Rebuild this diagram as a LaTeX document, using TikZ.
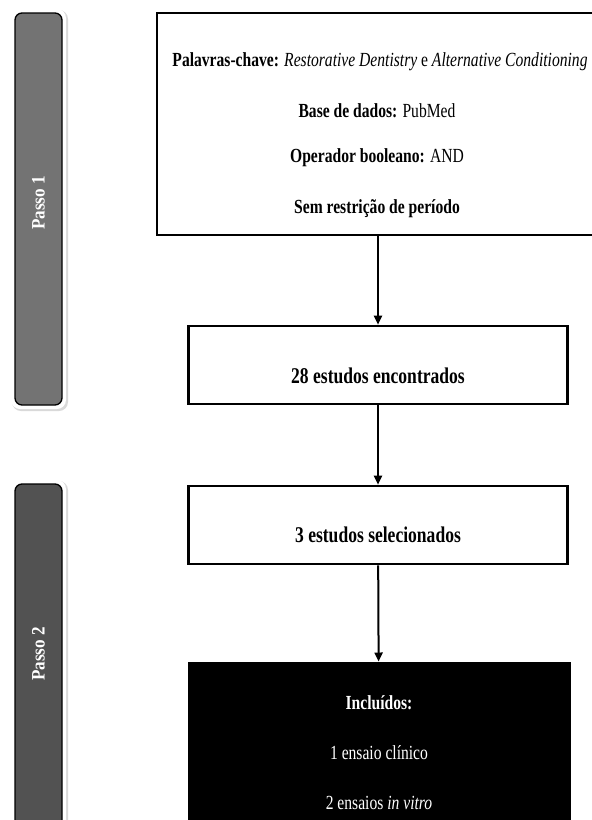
\documentclass[tikz,border=0pt]{standalone}
\usepackage{fontspec}
\setmainfont{Liberation Serif}[FakeStretch=0.78]
\newfontfamily\barfont{Liberation Serif}[FakeStretch=0.9]
\usetikzlibrary{arrows.meta}
\begin{document}
\begin{tikzpicture}[x=1pt,y=-1pt,
  flowbox/.style={draw=black,line width=2.6pt,fill=white,minimum height=78pt,minimum width=379pt,inner sep=0pt},
  darkbox/.style={draw=black,line width=1pt,fill=black,minimum width=382pt,minimum height=170pt,inner sep=0pt},
  txt/.style={inner sep=0pt,font=\fontsize{20}{24}\selectfont},
  btxt/.style={txt,font=\fontsize{20}{24}\selectfont\bfseries},
  bigtxt/.style={txt,font=\fontsize{22.5}{26}\selectfont\bfseries},
  flowarrow/.style={draw=black,line width=2pt,-{Triangle[length=9pt,width=8pt]}},
  stepbar/.style={draw=black,line width=1.3pt,rounded corners=7pt},
  steplabel/.style={text=white,font=\barfont\fontsize{19}{22}\selectfont\bfseries,rotate=90}
]
\useasboundingbox (0,0) rectangle (592,820);
\begin{scope}
\clip (0,0) rectangle (592,820);
% step bars
\fill[black!15,rounded corners=9pt] (12,10) rectangle (68,411);
\fill[white,rounded corners=9pt] (11,9) rectangle (66,409);
\path[stepbar,fill=black!55] (15,13) rectangle (62,405);
\fill[black!15,rounded corners=9pt] (12,481) rectangle (68,840);
\fill[white,rounded corners=9pt] (11,480) rectangle (66,840);
\path[stepbar,fill=black!68] (15,484) rectangle (62,836);
\node[steplabel] (p1) at (38.5,203) {Passo 1};
\node[steplabel] (p2) at (38.5,654) {Passo 2};
% boxes
\node[draw=black,line width=2.8pt,fill=white,minimum width=440pt,minimum height=222pt,inner sep=0pt] (b1) at (377,124) {};
\node[txt] (t1) at (380,62) {\textbf{Palavras-chave:} \textit{Restorative Dentistry} e \textit{Alternative Conditioning}};
\node[txt] (t2) at (377,111) {\textbf{Base de dados:} PubMed};
\node[txt] (t3) at (377,158) {\textbf{Operador booleano:} AND};
\node[btxt] (t4) at (377,209) {Sem restrição de período};
\node[flowbox] (b2) at (378,365) {};
\node[bigtxt] (l2) at (378,376) {28 estudos encontrados};
\node[flowbox] (b3) at (378,525) {};
\node[bigtxt] (l3) at (378,535) {3 estudos selecionados};
\node[darkbox] (b4) at (379,747) {};
\node[btxt,text=white] (i1) at (379,703) {Incluídos:};
\node[txt,text=white] (i2) at (379,753) {1 ensaio clínico};
\node[txt,text=white] (i3) at (379,803) {2 ensaios \textit{in vitro}};
\draw[flowarrow] (b1.south -| b2.north) -- (b2.north);
\draw[flowarrow] (b2) -- (b3);
\draw[flowarrow] (b3) -- (b4);
\end{scope}
\end{tikzpicture}
\end{document}
